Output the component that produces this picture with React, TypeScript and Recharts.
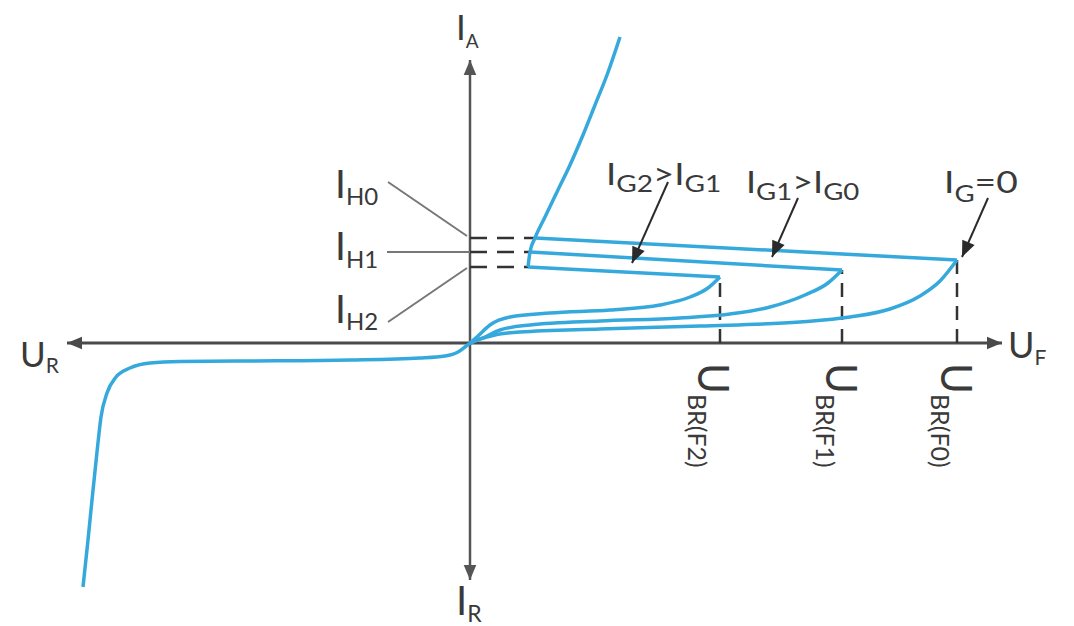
import { LineChart, Line, XAxis, YAxis, ReferenceLine, ReferenceDot } from 'recharts'

type Pt = { u: number; i: number }

// reverse blocking branch, down to reverse breakdown
const reverseBranch: Pt[] = [
  { u: -38.7, i: -24.4 },
  { u: -38.2, i: -19.7 },
  { u: -37.8, i: -15.7 },
  { u: -37.3, i: -10.9 },
  { u: -36.9, i: -7.4 },
  { u: -36.3, i: -5.0 },
  { u: -35.4, i: -3.4 },
  { u: -34.0, i: -2.5 },
  { u: -32.0, i: -2.0 },
  { u: -29.0, i: -1.85 },
  { u: -22.0, i: -1.8 },
  { u: -12.0, i: -1.7 },
  { u: -5.0, i: -1.5 },
  { u: -2.5, i: -1.3 },
  { u: -1.2, i: -0.9 },
  { u: -0.5, i: -0.4 },
  { u: 0, i: 0 },
]

// forward blocking branches for the three gate currents
const blockingG0: Pt[] = [
  { u: 0, i: 0 },
  { u: 1.0, i: 0.4 },
  { u: 2.5, i: 0.8 },
  { u: 5, i: 1.1 },
  { u: 13, i: 1.4 },
  { u: 23, i: 1.7 },
  { u: 33, i: 2.1 },
  { u: 38, i: 2.6 },
  { u: 42, i: 3.4 },
  { u: 45, i: 4.7 },
  { u: 47, i: 6.2 },
  { u: 48.7, i: 8.3 },
]

const blockingG1: Pt[] = [
  { u: 0, i: 0 },
  { u: 1.5, i: 0.6 },
  { u: 3, i: 1.3 },
  { u: 6, i: 1.8 },
  { u: 13, i: 2.2 },
  { u: 21, i: 2.5 },
  { u: 26, i: 2.9 },
  { u: 30, i: 3.6 },
  { u: 33.5, i: 4.8 },
  { u: 35.8, i: 6.0 },
  { u: 37.2, i: 7.3 },
]

const blockingG2: Pt[] = [
  { u: 0, i: 0 },
  { u: 0.8, i: 0.7 },
  { u: 2, i: 1.8 },
  { u: 4, i: 2.6 },
  { u: 8, i: 3.0 },
  { u: 14, i: 3.3 },
  { u: 19, i: 3.8 },
  { u: 22, i: 4.6 },
  { u: 23.8, i: 5.5 },
  { u: 25, i: 6.6 },
]

// conducting state, starting at the lowest holding point
const onState: Pt[] = [
  { u: 5.8, i: 7.6 },
  { u: 6.0, i: 9.1 },
  { u: 6.5, i: 10.5 },
  { u: 7.5, i: 12.6 },
  { u: 8.7, i: 15.1 },
  { u: 10, i: 17.8 },
  { u: 11.3, i: 20.8 },
  { u: 12.5, i: 23.8 },
  { u: 13.7, i: 26.8 },
  { u: 15, i: 30.6 },
]

// holding currents I_H0, I_H1, I_H2 (points on the on-state curve)
const holding: Pt[] = [onState[2], onState[1], onState[0]]
const branches = [blockingG0, blockingG1, blockingG2]
const breakover: Pt[] = branches.map(b => b[b.length - 1])
const snapBack: Pt[][] = breakover.map((b, k) => [b, holding[k]])

const uRange = [-47, 60.4]
const iRange = [-28.3, 34.3]
const uAxis = [-40.3, 53.2]
const iAxis = [-23.7, 28.3]

const CURVE = '#36a9dc'
const INK = '#3a3a3a'
const FONT = 'Lato, "Open Sans", sans-serif'

function Arrow(props: any) {
  const { x1, y1, x2, y2, stroke, strokeWidth, head = 12, both = false } = props
  const tip = (x: number, y: number, a: number) => {
    const w = head * 0.42
    const bx = x - head * Math.cos(a)
    const by = y - head * Math.sin(a)
    const nx = -Math.sin(a) * w
    const ny = Math.cos(a) * w
    return `${x},${y} ${bx + nx},${by + ny} ${bx - nx},${by - ny}`
  }
  const a = Math.atan2(y2 - y1, x2 - x1)
  return (
    <g>
      <line x1={x1} y1={y1} x2={x2} y2={y2} stroke={stroke} strokeWidth={strokeWidth} />
      <polygon points={tip(x2, y2, a)} fill={stroke} />
      {both && <polygon points={tip(x1, y1, a + Math.PI)} fill={stroke} />}
    </g>
  )
}

type Seg = [string, boolean?]

function RichText(props: any) {
  const { cx, cy, segs, size, subSize, drop, angle = 0, sx = 1 } = props
  let low = false
  const spans = (segs as Seg[]).map(([t, sub], k) => {
    const dy = sub && !low ? drop : !sub && low ? -drop : 0
    low = !!sub
    return (
      <tspan key={k} dy={dy} fontSize={sub ? subSize : size}>
        {t}
      </tspan>
    )
  })
  return (
    <text
      transform={`translate(${cx},${cy}) rotate(${angle}) scale(${sx},1)`}
      fill={INK}
      fontFamily={FONT}
    >
      {spans}
    </text>
  )
}

function Tag(u: number, i: number, segs: Seg[], size: number, subSize: number, drop: number, angle = 0, sx = 1) {
  return (
    <ReferenceDot
      x={u}
      y={i}
      r={0}
      shape={(p: any) => (
        <RichText cx={p.cx} cy={p.cy} segs={segs} size={size} subSize={subSize} drop={drop} angle={angle} sx={sx} />
      )}
    />
  )
}

export default function App() {
  return (
    <div style={{ position: 'absolute', left: 0, top: 0, background: '#fff' }}>
      <LineChart width={1074} height={626} margin={{ top: 0, right: 0, bottom: 0, left: 0 }}>
        <XAxis type="number" dataKey="u" domain={uRange} hide allowDataOverflow />
        <YAxis type="number" dataKey="i" domain={iRange} hide allowDataOverflow />

        {/* axes */}
        <ReferenceLine
          segment={[{ x: uAxis[0], y: 0 }, { x: uAxis[1], y: 0 }]}
          stroke="#4a4a4a"
          strokeWidth={3}
          shape={(p: any) => <Arrow {...p} head={15} both />}
        />
        <ReferenceLine
          segment={[{ x: 0, y: iAxis[0] }, { x: 0, y: iAxis[1] }]}
          stroke="#555"
          strokeWidth={2.5}
          shape={(p: any) => <Arrow {...p} head={15} both />}
        />

        {/* breakover voltages */}
        {breakover.map((b, k) => (
          <ReferenceLine
            key={`bo${k}`}
            segment={[{ x: b.u, y: 0 }, { x: b.u, y: b.i }]}
            stroke="#333"
            strokeWidth={2.5}
            strokeDasharray="14 9"
          />
        ))}

        {/* holding current levels */}
        {holding.map((h, k) => (
          <ReferenceLine
            key={`h${k}`}
            segment={[{ x: 0, y: h.i }, { x: h.u, y: h.i }]}
            stroke="#333"
            strokeWidth={2.5}
            strokeDasharray="17 10"
          />
        ))}

        {/* leader lines to I_H labels */}
        <ReferenceLine segment={[{ x: -8.2, y: 16.1 }, { x: -0.3, y: 10.7 }]} stroke="#777" strokeWidth={2} />
        <ReferenceLine segment={[{ x: -8.3, y: 9.1 }, { x: 0, y: 9.1 }]} stroke="#777" strokeWidth={2} />
        <ReferenceLine segment={[{ x: -8.2, y: 2.1 }, { x: -0.3, y: 7.5 }]} stroke="#777" strokeWidth={2} />

        <Line data={reverseBranch} dataKey="i" type="monotone" stroke={CURVE} strokeWidth={3.5} dot={false} activeDot={false} isAnimationActive={false} />
        {branches.map((b, k) => (
          <Line key={`fb${k}`} data={b} dataKey="i" type="monotone" stroke={CURVE} strokeWidth={3.5} dot={false} activeDot={false} isAnimationActive={false} />
        ))}
        {snapBack.map((s, k) => (
          <Line key={`sb${k}`} data={s} dataKey="i" type="linear" stroke={CURVE} strokeWidth={3.5} dot={false} activeDot={false} isAnimationActive={false} />
        ))}
        <Line data={onState} dataKey="i" type="monotone" stroke={CURVE} strokeWidth={3.5} dot={false} activeDot={false} isAnimationActive={false} />

        {/* gate current pointers */}
        <ReferenceLine segment={[{ x: 19.8, y: 16.1 }, { x: 16.2, y: 8.0 }]} stroke="#2a2a2a" strokeWidth={2} shape={(p: any) => <Arrow {...p} head={16} />} />
        <ReferenceLine segment={[{ x: 32.8, y: 14.5 }, { x: 30.2, y: 8.6 }]} stroke="#2a2a2a" strokeWidth={2} shape={(p: any) => <Arrow {...p} head={16} />} />
        <ReferenceLine segment={[{ x: 51.8, y: 14.5 }, { x: 49.2, y: 8.6 }]} stroke="#2a2a2a" strokeWidth={2} shape={(p: any) => <Arrow {...p} head={16} />} />

        {Tag(-1.4, 30.3, [['I'], ['A', true]], 35, 19, 8)}
        {Tag(-1.4, -27.2, [['I'], ['R', true]], 40, 23, 7)}
        {Tag(-45, -2.4, [['U'], ['R', true]], 35, 21, 6)}
        {Tag(53.8, -1.5, [['U'], ['F', true]], 36, 21, 7)}
        {Tag(-13.5, 14.5, [['I'], ['H0', true]], 39, 24, 7)}
        {Tag(-13.5, 8.3, [['I'], ['H1', true]], 39, 24, 8)}
        {Tag(-13.5, 2.0, [['I'], ['H2', true]], 39, 24, 7)}
        {Tag(13.6, 15.8, [['I'], ['G2', true], ['>'], ['I'], ['G1', true]], 30, 23, 7, 0, 1.22)}
        {Tag(27.6, 15.0, [['I'], ['G1', true], ['>'], ['I'], ['G0', true]], 30, 23, 7, 0, 1.2)}
        {Tag(47.4, 15.0, [['I'], ['G', true], ['=0']], 31, 23, 9, 0, 1.2)}
        {Tag(22.8, -2.0, [['U'], ['BR(F2)', true]], 42, 25, 10, 90)}
        {Tag(35.6, -2.0, [['U'], ['BR(F1)', true]], 42, 25, 10, 90)}
        {Tag(47.1, -2.0, [['U'], ['BR(F0)', true]], 42, 25, 10, 90)}
      </LineChart>
    </div>
  )
}
